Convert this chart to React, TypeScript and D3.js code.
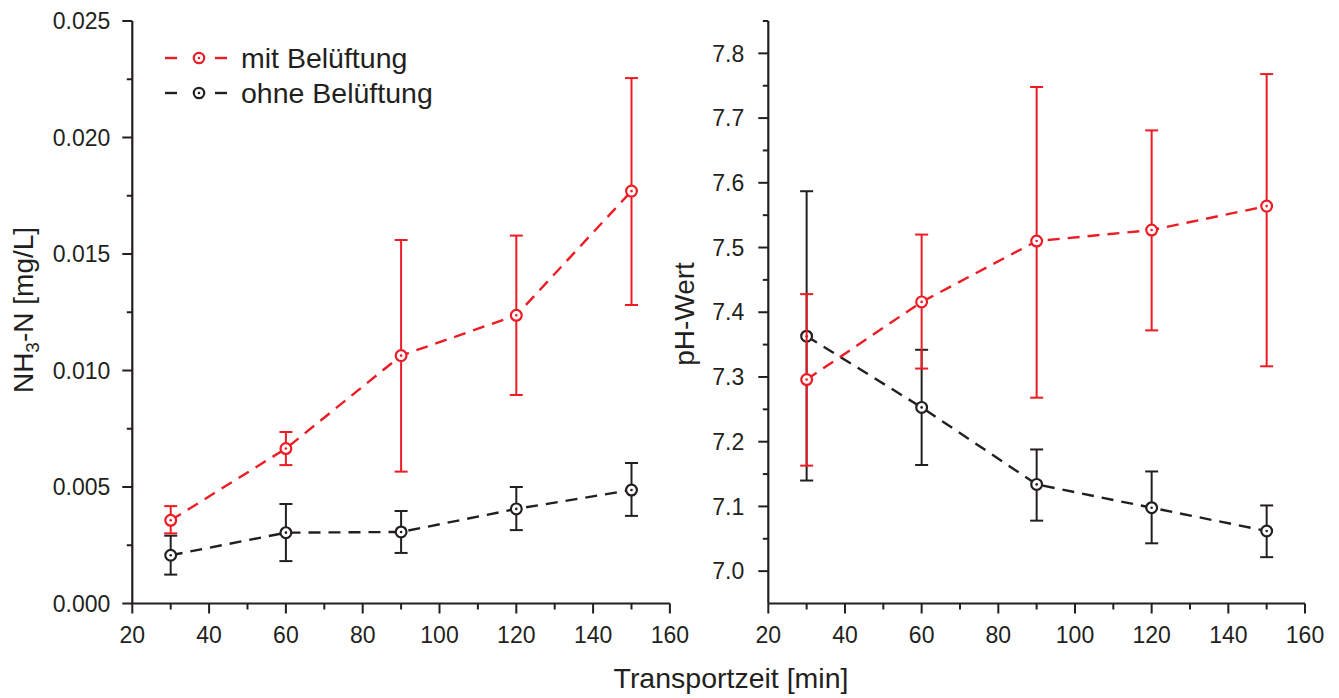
import React from "react";
import * as d3 from "d3";

const times = [30, 60, 90, 120, 150];
const nh3Mit = [0.00357, 0.00665, 0.01064, 0.01237, 0.0177];
const nh3MitLo = [0.00301, 0.00594, 0.00566, 0.00895, 0.01281];
const nh3MitHi = [0.00418, 0.00736, 0.0156, 0.01579, 0.02255];
const nh3Ohne = [0.00207, 0.00304, 0.00307, 0.00406, 0.00487];
const nh3OhneLo = [0.00124, 0.00182, 0.00217, 0.00315, 0.00376];
const nh3OhneHi = [0.00291, 0.00427, 0.00397, 0.005, 0.00603];
const phMit = [7.296, 7.416, 7.51, 7.527, 7.564];
const phMitLo = [7.163, 7.313, 7.268, 7.372, 7.3165];
const phMitHi = [7.428, 7.52, 7.748, 7.681, 7.768];
const phOhne = [7.363, 7.253, 7.134, 7.098, 7.062];
const phOhneLo = [7.14, 7.164, 7.078, 7.043, 7.0216];
const phOhneHi = [7.587, 7.342, 7.188, 7.154, 7.1015];

const xTicks = [20, 40, 60, 80, 100, 120, 140, 160];
const xMinor = [30, 50, 70, 90, 110, 130, 150];
const nh3Ticks = [0, 0.005, 0.01, 0.015, 0.02, 0.025];
const nh3Minor = [0.0025, 0.0075, 0.0125, 0.0175, 0.0225];
const phTicks = [7.0, 7.1, 7.2, 7.3, 7.4, 7.5, 7.6, 7.7, 7.8];
const phMinor = [7.05, 7.15, 7.25, 7.35, 7.45, 7.55, 7.65, 7.75, 7.85];

const legendLabels = ["mit Belüftung", "ohne Belüftung"];
const xTitle = "Transportzeit [min]";

const RED = "#ed1c24";
const BLACK = "#231f20";
const FONT = "'Liberation Sans', Arial, Helvetica, sans-serif";

type Series = { vals: number[]; lo: number[]; hi: number[]; color: string };

function Panel(props: {
  x0: number;
  x1: number;
  y0: number;
  y1: number;
  yDomain: [number, number];
  yTicks: number[];
  yMinor: number[];
  yFmt: (v: number) => string;
  labelGap: number;
  series: Series[];
}) {
  const { x0, x1, y0, y1, yDomain, yTicks, yMinor, yFmt, labelGap, series } = props;
  const xs = d3.scaleLinear().domain([20, 160]).range([x0, x1]);
  const ys = d3.scaleLinear().domain(yDomain).range([y1, y0]);
  const line = d3
    .line<number>()
    .x((_, i) => xs(times[i]))
    .y((d) => ys(d));
  return (
    <g>
      <line x1={x0} x2={x0} y1={y0} y2={y1} stroke={BLACK} strokeWidth={2.2} />
      <line x1={x0} x2={x1} y1={y1} y2={y1} stroke={BLACK} strokeWidth={2.2} />
      {yTicks.map((t) => (
        <g key={"yt" + t}>
          <line x1={x0 - 10} x2={x0} y1={ys(t)} y2={ys(t)} stroke={BLACK} strokeWidth={2} />
          <text
            x={x0 - labelGap}
            y={ys(t) + 8.2}
            textAnchor="end"
            fontSize={23}
            fontFamily={FONT}
            fill={BLACK}
          >
            {yFmt(t)}
          </text>
        </g>
      ))}
      {yMinor.map((t) => (
        <line key={"ym" + t} x1={x0 - 5.5} x2={x0} y1={ys(t)} y2={ys(t)} stroke={BLACK} strokeWidth={2} />
      ))}
      {xTicks.map((t) => (
        <g key={"xt" + t}>
          <line x1={xs(t)} x2={xs(t)} y1={y1} y2={y1 + 10} stroke={BLACK} strokeWidth={2} />
          <text x={xs(t)} y={643} textAnchor="middle" fontSize={23} fontFamily={FONT} fill={BLACK}>
            {t}
          </text>
        </g>
      ))}
      {xMinor.map((t) => (
        <line key={"xm" + t} x1={xs(t)} x2={xs(t)} y1={y1} y2={y1 + 6} stroke={BLACK} strokeWidth={2} />
      ))}
      {series.map((s, si) => (
        <g key={"s" + si}>
          {s.vals.map((v, i) => {
            const cx = xs(times[i]);
            const top = ys(s.hi[i]);
            const bot = ys(s.lo[i]);
            return (
              <g key={"e" + i} stroke={s.color} strokeWidth={2}>
                <line x1={cx} x2={cx} y1={top} y2={bot} />
                <line x1={cx - 6.5} x2={cx + 6.5} y1={top} y2={top} />
                <line x1={cx - 6.5} x2={cx + 6.5} y1={bot} y2={bot} />
              </g>
            );
          })}
          <path
            d={line(s.vals) || ""}
            fill="none"
            stroke={s.color}
            strokeWidth={2.4}
            strokeDasharray="12 8"
          />
          {s.vals.map((v, i) => (
            <g key={"m" + i}>
              <circle cx={xs(times[i])} cy={ys(v)} r={5.4} fill="#fff" stroke={s.color} strokeWidth={2.2} />
              <circle cx={xs(times[i])} cy={ys(v)} r={1.3} fill={s.color} />
            </g>
          ))}
        </g>
      ))}
    </g>
  );
}

export default function App() {
  const legendColors = [RED, BLACK];
  const legendY = [58, 93];
  return (
    <svg
      width={1339}
      height={698}
      style={{ position: "absolute", left: 0, top: 0, display: "block", background: "#fff" }}
    >
      <Panel
        x0={132.3}
        x1={669.9}
        y0={21}
        y1={603.5}
        yDomain={[0, 0.025]}
        yTicks={nh3Ticks}
        yMinor={nh3Minor}
        yFmt={d3.format(".3f")}
        labelGap={22}
        series={[
          { vals: nh3Ohne, lo: nh3OhneLo, hi: nh3OhneHi, color: BLACK },
          { vals: nh3Mit, lo: nh3MitLo, hi: nh3MitHi, color: RED },
        ]}
      />
      <Panel
        x0={768.3}
        x1={1305}
        y0={21}
        y1={603.5}
        yDomain={[6.95, 7.85]}
        yTicks={phTicks}
        yMinor={phMinor}
        yFmt={d3.format(".1f")}
        labelGap={24}
        series={[
          { vals: phOhne, lo: phOhneLo, hi: phOhneHi, color: BLACK },
          { vals: phMit, lo: phMitLo, hi: phMitHi, color: RED },
        ]}
      />
      {legendLabels.map((lab, i) => (
        <g key={lab}>
          <line x1={165} x2={177} y1={legendY[i]} y2={legendY[i]} stroke={legendColors[i]} strokeWidth={2.4} />
          <line x1={215} x2={227} y1={legendY[i]} y2={legendY[i]} stroke={legendColors[i]} strokeWidth={2.4} />
          <circle cx={199} cy={legendY[i]} r={5.2} fill="#fff" stroke={legendColors[i]} strokeWidth={2.2} />
          <circle cx={199} cy={legendY[i]} r={1.3} fill={legendColors[i]} />
          <text x={241} y={legendY[i] + 10} fontSize={28.5} fontFamily={FONT} fill={BLACK}>
            {lab}
          </text>
        </g>
      ))}
      <text x={731} y={688} textAnchor="middle" fontSize={28.5} fontFamily={FONT} fill={BLACK}>
        {xTitle}
      </text>
      <text
        transform="translate(33,310) rotate(-90)"
        textAnchor="middle"
        fontSize={28}
        fontFamily={FONT}
        fill={BLACK}
      >
        NH
        <tspan fontSize={19} dy={6}>
          3
        </tspan>
        <tspan dy={-6}>-N [mg/L]</tspan>
      </text>
      <text
        transform="translate(694,314) rotate(-90)"
        textAnchor="middle"
        fontSize={28}
        fontFamily={FONT}
        fill={BLACK}
      >
        pH-Wert
      </text>
    </svg>
  );
}
